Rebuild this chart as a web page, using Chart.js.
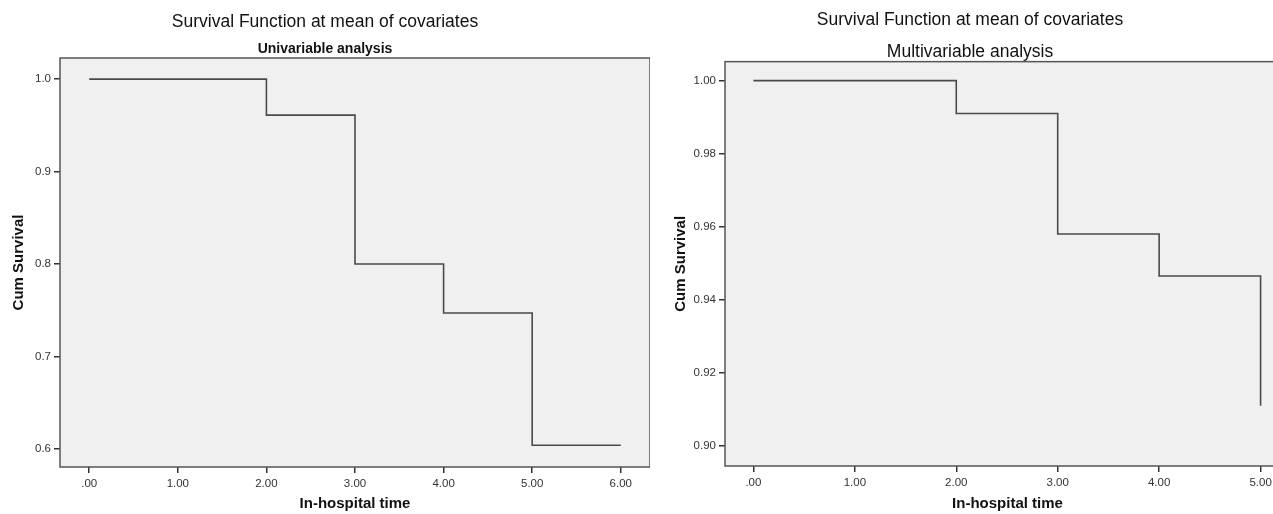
<!DOCTYPE html>
<html>
<head>
<meta charset="utf-8">
<script src="https://cdn.jsdelivr.net/npm/chart.js@4.4.1/dist/chart.umd.min.js"></script>
<style>
  html, body { margin: 0; padding: 0; background: #fff; overflow: hidden; }
  #wrap { position: relative; width: 1273px; height: 514px; overflow: hidden; }
  #left { position: absolute; left: 0; top: 0; }
  #right { position: absolute; left: 650px; top: 0; }
</style>
</head>
<body>
<div id="wrap">
  <canvas id="left" width="650" height="514"></canvas>
  <canvas id="right" width="640" height="514"></canvas>
</div>
<script>
// Univariable analysis
const timesUni = [0, 2, 3, 4, 5, 6];
const survUni = [1.0, 0.961, 0.800, 0.747, 0.604, 0.604];
const xTicksUni = [0, 1, 2, 3, 4, 5, 6];
const yTicksUni = [0.6, 0.7, 0.8, 0.9, 1.0];

// Multivariable analysis
const timesMulti = [0, 2, 3, 4, 5];
const survMulti = [1.0, 0.991, 0.958, 0.9465, 0.911];
const xTicksMulti = [0, 1, 2, 3, 4, 5];
const yTicksMulti = [0.90, 0.92, 0.94, 0.96, 0.98, 1.00];

const FONT = '"Liberation Sans", Arial, sans-serif';

// grey plot area with a dark frame, like SPSS output
const boxPlugin = {
    id: 'box',
    beforeDraw(chart) {
        const { ctx, chartArea: a } = chart;
        ctx.save();
        ctx.fillStyle = '#f0f0f0';
        ctx.fillRect(a.left, a.top, a.width, a.height);
        ctx.restore();
    },
    afterDraw(chart) {
        const { ctx, chartArea: a } = chart;
        ctx.save();
        ctx.strokeStyle = '#555';
        ctx.lineWidth = 1.5;
        ctx.strokeRect(a.left, a.top, a.width, a.height);
        ctx.restore();
    }
};

function fmtX(v) {
    return v === 0 ? '.00' : v.toFixed(2);
}

function makeChart(id, o) {
    const ctx = document.getElementById(id).getContext('2d');
    return new Chart(ctx, {
        type: 'line',
        data: {
            datasets: [{
                data: o.times.map((t, i) => ({ x: t, y: o.surv[i] })),
                stepped: 'before',
                borderColor: '#4a4a4a',
                borderWidth: 1.6,
                pointRadius: 0,
                fill: false
            }]
        },
        options: {
            responsive: false,
            animation: false,
            layout: { padding: { left: 0, right: 0, top: 0, bottom: 0 } },
            plugins: {
                legend: { display: false },
                tooltip: { enabled: false },
                title: {
                    display: true,
                    text: 'Survival Function at mean of covariates',
                    color: '#111',
                    font: { family: FONT, size: o.titleSize, weight: 'normal', lineHeight: 1.2 },
                    padding: { top: o.titlePad, bottom: 0 }
                },
                subtitle: {
                    display: true,
                    text: o.subtitle,
                    color: '#111',
                    font: { family: FONT, size: o.subSize, weight: o.subWeight, lineHeight: 1.1 },
                    padding: { top: o.subPadTop, bottom: o.subPadBottom }
                }
            },
            scales: {
                x: {
                    type: 'linear',
                    min: o.xMin,
                    max: o.xMax,
                    afterBuildTicks: s => { s.ticks = o.xTicks.map(v => ({ value: v })); },
                    afterFit: s => { s.height = o.xHeight; },
                    grid: { drawOnChartArea: false, drawTicks: true, tickLength: 6, color: '#333', lineWidth: 1.5 },
                    border: { display: false },
                    ticks: { color: '#333', font: { family: FONT, size: 11.5 }, padding: 4, maxRotation: 0, autoSkip: false, callback: fmtX },
                    title: {
                        display: true,
                        text: 'In-hospital time',
                        color: '#111',
                        font: { family: FONT, size: 15, weight: 'bold' },
                        padding: { top: 0, bottom: 1 }
                    }
                },
                y: {
                    type: 'linear',
                    min: o.yMin,
                    max: o.yMax,
                    afterBuildTicks: s => { s.ticks = o.yTicks.map(v => ({ value: v })); },
                    afterFit: s => { s.width = o.yWidth; },
                    grid: { drawOnChartArea: false, drawTicks: true, tickLength: 6, color: '#333', lineWidth: 1.5 },
                    border: { display: false },
                    ticks: { color: '#333', font: { family: FONT, size: 11.5 }, padding: 3, autoSkip: false, callback: v => v.toFixed(o.yDigits) },
                    title: {
                        display: true,
                        text: 'Cum Survival',
                        color: '#111',
                        font: { family: FONT, size: 15, weight: 'bold' },
                        padding: { top: o.yTitlePad, bottom: 0 }
                    }
                }
            }
        },
        plugins: [boxPlugin]
    });
}

makeChart('left', {
    times: timesUni, surv: survUni,
    xTicks: xTicksUni, yTicks: yTicksUni,
    subtitle: 'Univariable analysis',
    titleSize: 17.5, titlePad: 12,
    subSize: 14, subWeight: 'bold', subPadTop: 8.8, subPadBottom: 0.8,
    xMin: -0.33, xMax: 6.33, xHeight: 47,
    yMin: 0.5805, yMax: 1.0228, yWidth: 60, yDigits: 1, yTitlePad: 10
});

makeChart('right', {
    times: timesMulti, surv: survMulti,
    xTicks: xTicksMulti, yTicks: yTicksMulti,
    subtitle: 'Multivariable analysis',
    titleSize: 17.5, titlePad: 9.5,
    subSize: 17.5, subWeight: 'normal', subPadTop: 11.9, subPadBottom: 0,
    xMin: -0.28, xMax: 5.29, xHeight: 48,
    yMin: 0.8945, yMax: 1.0052, yWidth: 75, yDigits: 2, yTitlePad: 21.6
});
</script>
</body>
</html>
